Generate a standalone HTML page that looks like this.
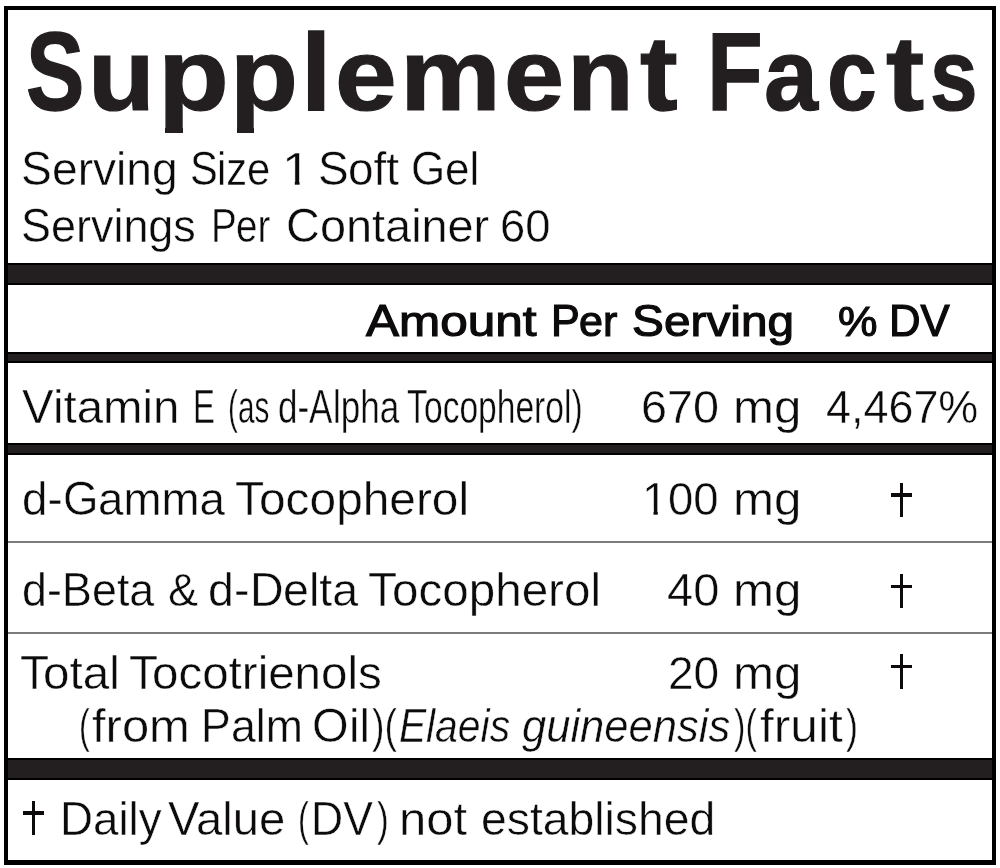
<!DOCTYPE html>
<html lang="en"><head><meta charset="utf-8"><title>Supplement Facts</title>
<style>
html,body{margin:0;padding:0;background:#fff;}
body{width:1000px;height:868px;position:relative;overflow:hidden;font-family:"Liberation Sans",sans-serif;color:#231f20;}
.box{position:absolute;left:4px;top:6px;width:984px;height:850px;border:4px solid #000;border-bottom-width:5px;}
.bar{position:absolute;left:8px;width:984px;background:#231f20;border-top:2px solid #000;border-bottom:2px solid #000;box-sizing:border-box;}
.thin{position:absolute;left:8px;width:984px;height:2px;background:#7d7d7d;}
.txt{position:absolute;left:0;top:0;width:1000px;height:868px;will-change:transform;}
.ln{margin:0;font-size:0;line-height:0;font-weight:normal;}
.w{position:absolute;white-space:pre;line-height:1;transform-origin:0 0;color:#0c0a0b;}
.w.b{color:#231f20;}
.b{font-weight:bold;-webkit-text-stroke:1.3px #231f20;}
.h{-webkit-text-stroke:1.15px #0c0a0b;}
.r{-webkit-text-stroke:0.45px #fff;}
.i{font-style:italic;}
.px{position:absolute;background:#231f20;}
.dg{position:absolute;background:#0c0a0b;font-size:0;line-height:0;overflow:hidden;}
</style></head><body>
<div class="box"></div>
<div class="txt">
<!-- title -->
<h1 class="ln">
<span class="w b" style="left:25.59px;top:18.90px;font-size:108px;transform-origin:0 91.50px;transform:scale(0.8107,1.0361)">S</span><span class="w b" style="left:88.33px;top:18.90px;font-size:108px;transform-origin:0 91.50px;transform:scale(1.0129,0.9436)">u</span><span class="w b" style="left:157.68px;top:18.90px;font-size:108px;transform-origin:0 91.50px;transform:scale(1.0746,0.9454)">p</span><span class="w b" style="left:230.46px;top:18.90px;font-size:108px;transform-origin:0 91.50px;transform:scale(1.0302,0.9398)">p</span><span class="w b" style="left:300.58px;top:18.90px;font-size:108px;transform-origin:0 91.50px;transform:scale(1.0116,1.0213)">l</span><span class="w b" style="left:334.56px;top:18.90px;font-size:108px;transform-origin:0 91.50px;transform:scale(1.0267,0.9442)">e</span><span class="w b" style="left:399.83px;top:18.90px;font-size:108px;transform-origin:0 91.50px;transform:scale(1.0498,0.9404)">m</span><span class="w b" style="left:503.65px;top:18.90px;font-size:108px;transform-origin:0 91.50px;transform:scale(0.9991,0.9442)">e</span><span class="w b" style="left:567.32px;top:18.90px;font-size:108px;transform-origin:0 91.50px;transform:scale(1.0129,0.9371)">n</span><span class="w b" style="left:639.63px;top:18.90px;font-size:108px;transform-origin:0 91.50px;transform:scale(1.0482,0.9867)">t</span> 
<span class="w b" style="left:707.04px;top:18.90px;font-size:108px;transform-origin:0 91.50px;transform:scale(0.8447,1.0297)">F</span><span class="w b" style="left:764.14px;top:18.90px;font-size:108px;transform-origin:0 91.50px;transform:scale(0.8980,0.9414)">a</span><span class="w b" style="left:827.22px;top:18.90px;font-size:108px;transform-origin:0 91.50px;transform:scale(0.8287,0.9414)">c</span><span class="w b" style="left:885.88px;top:18.90px;font-size:108px;transform-origin:0 91.50px;transform:scale(1.0623,0.9867)">t</span><span class="w b" style="left:930.14px;top:18.90px;font-size:108px;transform-origin:0 91.50px;transform:scale(0.7919,0.9414)">s</span><span class="px" style="left:165.20px;top:128px;width:17.60px;height:5.2px"></span><span class="px" style="left:237.20px;top:128px;width:16.50px;height:5.2px"></span>
</h1>
<!-- serving info -->
<div class="ln">
<span class="w r" style="left:21.37px;top:146.00px;font-size:46px;transform-origin:0 39.00px;transform:scale(1.0031,1.0450)">S</span><span class="w r" style="left:52.14px;top:146.00px;font-size:46px;transform:scaleX(1.0031)">erving</span> 
<span class="w r" style="left:189.58px;top:146.00px;font-size:46px;transform-origin:0 39.00px;transform:scale(0.9058,1.0450)">S</span><span class="w r" style="left:217.38px;top:146.00px;font-size:46px;transform:scaleX(0.9058)">ize</span> 
<span class="w r" style="left:282.21px;top:146.00px;font-size:46px;clip-path:polygon(0 0,46.00px 0,46.00px 34.46px,15.73px 34.46px,15.73px 46.00px,11.47px 46.00px,11.47px 34.46px,0 34.46px);transform:scaleX(1.1154)">1</span> 
<span class="w r" style="left:317.78px;top:146.00px;font-size:46px;transform-origin:0 39.00px;transform:scale(0.9988,1.0450)">S</span><span class="w r" style="left:348.42px;top:146.00px;font-size:46px;transform:scaleX(0.9988)">oft</span> 
<span class="w r" style="left:410.87px;top:146.00px;font-size:46px;transform-origin:0 39.00px;transform:scale(0.9565,1.0450)">G</span><span class="w r" style="left:445.09px;top:146.00px;font-size:46px;transform:scaleX(0.9565)">el</span>
</div>
<div class="ln">
<span class="w r" style="left:21.43px;top:203.00px;font-size:46px;transform-origin:0 39.00px;transform:scale(0.9765,1.0450)">S</span><span class="w r" style="left:51.39px;top:203.00px;font-size:46px;transform:scaleX(0.9765)">ervings</span> 
<span class="w r" style="left:210.50px;top:203.00px;font-size:46px;transform-origin:0 39.00px;transform:scale(0.8376,1.0450)">P</span><span class="w r" style="left:236.20px;top:203.00px;font-size:46px;transform:scaleX(0.8376)">er</span> 
<span class="w r" style="left:285.74px;top:203.00px;font-size:46px;transform-origin:0 39.00px;transform:scale(1.0179,1.0450)">C</span><span class="w r" style="left:319.55px;top:203.00px;font-size:46px;transform:scaleX(1.0179)">ontainer</span> 
<span class="w r" style="left:500.00px;top:203.00px;font-size:46px;transform:scaleX(0.9866)">60</span>
</div>
<div class="bar" style="top:263px;height:22px"></div>
<!-- column header -->
<div class="ln">
<span class="w h" style="left:366.07px;top:300.75px;font-size:42.5px;transform-origin:0 35.75px;transform:scale(1.1643,1.0600)">A</span><span class="w h" style="left:399.08px;top:300.75px;font-size:42.5px;transform:scaleX(1.1643)">mount</span> 
<span class="w h" style="left:550.54px;top:300.75px;font-size:42.5px;transform-origin:0 35.75px;transform:scale(1.0135,1.0600)">P</span><span class="w h" style="left:579.27px;top:300.75px;font-size:42.5px;transform:scaleX(1.0135)">er</span> 
<span class="w h" style="left:632.12px;top:300.75px;font-size:42.5px;transform-origin:0 35.75px;transform:scale(1.1228,1.0600)">S</span><span class="w h" style="left:663.95px;top:300.75px;font-size:42.5px;transform:scaleX(1.1228)">erving</span> 
<span class="w h" style="left:837.76px;top:300.75px;font-size:42.5px;transform:scaleX(1.0444)">%</span> 
<span class="w h" style="left:889.41px;top:300.75px;font-size:42.5px;transform-origin:0 35.75px;transform:scale(1.0287,1.0600)">DV</span>
</div>
<div class="bar" style="top:352px;height:11px"></div>
<!-- row: Vitamin E -->
<div class="ln">
<span class="w r" style="left:22.17px;top:384.00px;font-size:46px;transform-origin:0 39.00px;transform:scale(1.0300,1.0450)">V</span><span class="w r" style="left:52.91px;top:384.00px;font-size:46px;transform:scaleX(1.0300)">itamin</span> 
<span class="w r" style="left:192.69px;top:384.00px;font-size:46px;transform-origin:0 39.00px;transform:scale(0.7162,1.0450)">E</span> 
<span class="w r" style="left:227.56px;top:384.00px;font-size:46px;transform:scaleX(0.6451)">(as</span> 
<span class="w r" style="left:278.07px;top:384.00px;font-size:46px;transform:scaleX(0.7618)">d-</span><span class="w r" style="left:309.23px;top:384.00px;font-size:46px;transform-origin:0 39.00px;transform:scale(0.7618,1.0450)">A</span><span class="w r" style="left:332.60px;top:384.00px;font-size:46px;transform:scaleX(0.7618)">lpha</span> 
<span class="w r" style="left:407.11px;top:384.00px;font-size:46px;transform-origin:0 39.00px;transform:scale(0.7295,1.0450)">T</span><span class="w r" style="left:423.89px;top:384.00px;font-size:46px;transform:scaleX(0.7295)">ocopherol)</span> 
<span class="w r" style="left:640.94px;top:384.00px;font-size:46px;transform:scaleX(1.0177)">670</span> 
<span class="w r" style="left:732.56px;top:384.00px;font-size:46px;transform:scaleX(1.0679)">mg</span> 
<span class="w r" style="left:825.80px;top:384.00px;font-size:46px;transform:scaleX(0.9762)">4,467%</span>
</div>
<div class="bar" style="top:443px;height:12px"></div>
<!-- row: d-Gamma Tocopherol -->
<div class="ln">
<span class="w r" style="left:22.08px;top:476.00px;font-size:46px;transform:scaleX(0.9919)">d-</span><span class="w r" style="left:62.65px;top:476.00px;font-size:46px;transform-origin:0 39.00px;transform:scale(0.9919,1.0450)">G</span><span class="w r" style="left:98.14px;top:476.00px;font-size:46px;transform:scaleX(0.9919)">amma</span> 
<span class="w r" style="left:234.73px;top:476.00px;font-size:46px;transform-origin:0 39.00px;transform:scale(1.0399,1.0450)">T</span><span class="w r" style="left:258.64px;top:476.00px;font-size:46px;transform:scaleX(1.0399)">ocopherol</span> 
<span class="w r" style="left:641.53px;top:476.00px;font-size:46px;clip-path:polygon(0 0,46.00px 0,46.00px 34.46px,15.73px 34.46px,15.73px 46.00px,11.47px 46.00px,11.47px 34.46px,0 34.46px);transform:scaleX(1.0039)">1</span><span class="w r" style="left:667.59px;top:476.00px;font-size:46px;transform:scaleX(0.9889)">00</span> 
<span class="w r" style="left:732.54px;top:476.00px;font-size:46px;transform:scaleX(1.0714)">mg</span> 
<span class="dg" style="left:899.65px;top:482.60px;width:3.70px;height:34.60px">&dagger;</span><span class="dg" style="left:891.30px;top:493.35px;width:20.40px;height:3.50px"></span>
</div>
<div class="thin" style="top:541px"></div>
<!-- row: d-Beta & d-Delta Tocopherol -->
<div class="ln">
<span class="w r" style="left:22.01px;top:567.00px;font-size:46px;transform:scaleX(0.9725)">d-</span><span class="w r" style="left:61.79px;top:567.00px;font-size:46px;transform-origin:0 39.00px;transform:scale(0.9725,1.0450)">B</span><span class="w r" style="left:91.62px;top:567.00px;font-size:46px;transform:scaleX(0.9725)">eta</span> 
<span class="w r" style="left:168.00px;top:567.00px;font-size:46px;transform:scaleX(0.9807)">&amp;</span> 
<span class="w r" style="left:208.36px;top:567.00px;font-size:46px;transform:scaleX(1.0119)">d-</span><span class="w r" style="left:249.75px;top:567.00px;font-size:46px;transform-origin:0 39.00px;transform:scale(1.0119,1.0450)">D</span><span class="w r" style="left:283.36px;top:567.00px;font-size:46px;transform:scaleX(1.0119)">elta</span> 
<span class="w r" style="left:367.93px;top:567.00px;font-size:46px;transform-origin:0 39.00px;transform:scale(1.0345,1.0450)">T</span><span class="w r" style="left:391.73px;top:567.00px;font-size:46px;transform:scaleX(1.0345)">ocopherol</span> 
<span class="w r" style="left:666.75px;top:567.00px;font-size:46px;transform:scaleX(1.0222)">40</span> 
<span class="w r" style="left:732.54px;top:567.00px;font-size:46px;transform:scaleX(1.0714)">mg</span> 
<span class="dg" style="left:899.65px;top:573.90px;width:3.70px;height:34.50px">&dagger;</span><span class="dg" style="left:891.30px;top:584.65px;width:20.40px;height:3.50px"></span>
</div>
<div class="thin" style="top:632px"></div>
<!-- row: Total Tocotrienols -->
<div class="ln">
<span class="w r" style="left:19.63px;top:650.00px;font-size:46px;transform-origin:0 39.00px;transform:scale(1.0343,1.0450)">T</span><span class="w r" style="left:43.42px;top:650.00px;font-size:46px;transform:scaleX(1.0343)">otal</span> 
<span class="w r" style="left:128.73px;top:650.00px;font-size:46px;transform-origin:0 39.00px;transform:scale(1.0329,1.0450)">T</span><span class="w r" style="left:152.49px;top:650.00px;font-size:46px;transform:scaleX(1.0329)">ocotrienols</span> 
<span class="w r" style="left:667.77px;top:650.00px;font-size:46px;transform:scaleX(1.0014)">20</span> 
<span class="w r" style="left:732.54px;top:650.00px;font-size:46px;transform:scaleX(1.0714)">mg</span> 
<span class="dg" style="left:899.65px;top:654.00px;width:3.70px;height:34.60px">&dagger;</span><span class="dg" style="left:891.30px;top:664.75px;width:20.40px;height:3.50px"></span>
</div>
<div class="ln">
<span class="w r" style="left:78.74px;top:703.00px;font-size:46px;transform:scaleX(0.7011)">(</span><span class="w r" style="left:92.06px;top:703.00px;font-size:46px;transform:scaleX(1.0635)">from</span> 
<span class="w r" style="left:201.27px;top:703.00px;font-size:46px;transform-origin:0 39.00px;transform:scale(0.9694,1.0450)">P</span><span class="w r" style="left:231.02px;top:703.00px;font-size:46px;transform:scaleX(0.9694)">alm</span> 
<span class="w r" style="left:312.22px;top:703.00px;font-size:46px;transform-origin:0 39.00px;transform:scale(1.0242,1.0450)">O</span><span class="w r" style="left:348.87px;top:703.00px;font-size:46px;transform:scaleX(1.0242)">il</span><span class="w r" style="left:372.02px;top:703.00px;font-size:46px;transform:scaleX(0.8164)">)(</span><span class="w i r" style="left:398.81px;top:703.00px;font-size:46px;transform-origin:0 39.00px;transform:scale(0.8891,1.0450)">E</span><span class="w i r" style="left:426.09px;top:703.00px;font-size:46px;transform:scaleX(0.8891)">laeis</span> 
<span class="w i r" style="left:521.99px;top:703.00px;font-size:46px;transform:scaleX(0.9468)">guineensis</span><span class="w r" style="left:733.93px;top:703.00px;font-size:46px;transform:scaleX(0.7483)">)(</span><span class="w r" style="left:759.76px;top:703.00px;font-size:46px;transform:scaleX(1.0804)">fruit</span><span class="w r" style="left:845.92px;top:703.00px;font-size:46px;transform:scaleX(0.7809)">)</span>
</div>
<div class="bar" style="top:758px;height:22px"></div>
<!-- footnote -->
<div class="ln">
<span class="dg" style="left:31.55px;top:800.60px;width:3.70px;height:34.80px">&dagger;</span><span class="dg" style="left:23.20px;top:811.35px;width:20.40px;height:3.50px"></span> 
<span class="w r" style="left:59.79px;top:796.00px;font-size:46px;transform-origin:0 39.00px;transform:scale(0.9940,1.0450)">D</span><span class="w r" style="left:92.81px;top:796.00px;font-size:46px;transform:scaleX(0.9940)">aily</span> 
<span class="w r" style="left:167.97px;top:796.00px;font-size:46px;transform-origin:0 39.00px;transform:scale(1.0267,1.0450)">V</span><span class="w r" style="left:195.96px;top:796.00px;font-size:46px;transform:scaleX(1.0267)">alue</span> 
<span class="w r" style="left:298.42px;top:796.00px;font-size:46px;transform:scaleX(0.7085)">(</span><span class="w r" style="left:311.28px;top:796.00px;font-size:46px;transform-origin:0 39.00px;transform:scale(0.9676,1.0450)">DV</span><span class="w r" style="left:376.63px;top:796.00px;font-size:46px;transform:scaleX(0.7649)">)</span> 
<span class="w r" style="left:398.57px;top:796.00px;font-size:46px;transform:scaleX(1.0640)">not</span> 
<span class="w r" style="left:480.77px;top:796.00px;font-size:46px;transform:scaleX(1.0066)">established</span>
</div>
</div>
</body></html>
